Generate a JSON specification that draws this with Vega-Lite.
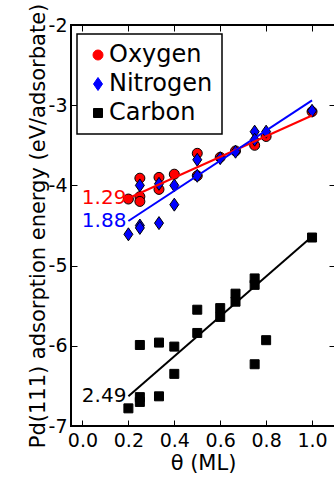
{
  "$schema": "https://vega.github.io/schema/vega-lite/v6.json",
  "width": 264,
  "height": 401,
  "autosize": {"type": "none"},
  "padding": {"left": 71, "top": 25, "right": 0, "bottom": 55},
  "background": "white",
  "config": {
    "font": "DejaVu Sans",
    "view": {"stroke": "black", "strokeWidth": 2},
    "axis": {
      "grid": false,
      "domain": false,
      "tickColor": "black",
      "tickSize": -6,
      "tickWidth": 1,
      "labelColor": "black",
      "labelFont": "DejaVu Sans",
      "labelFontSize": 19,
      "titleColor": "black",
      "titleFont": "DejaVu Sans",
      "titleFontSize": 21,
      "titleFontWeight": "normal"
    },
    "legend": {
      "orient": "none",
      "legendX": 6,
      "legendY": 9,
      "strokeColor": "black",
      "strokeWidth": 1.5,
      "fillColor": "white",
      "padding": 9,
      "labelFont": "DejaVu Sans",
      "labelFontSize": 24,
      "labelColor": "black",
      "labelOffset": -1,
      "rowPadding": 5,
      "symbolSize": 100,
      "symbolStrokeColor": "black",
      "symbolStrokeWidth": 1
    }
  },
  "datasets": {
    "points": [
      {"adsorbate": "Oxygen", "coverage": 0.2, "energy": -4.17},
      {"adsorbate": "Oxygen", "coverage": 0.25, "energy": -3.91},
      {"adsorbate": "Oxygen", "coverage": 0.25, "energy": -4.14},
      {"adsorbate": "Oxygen", "coverage": 0.25, "energy": -4.2},
      {"adsorbate": "Oxygen", "coverage": 0.3333, "energy": -3.9},
      {"adsorbate": "Oxygen", "coverage": 0.3333, "energy": -4.05},
      {"adsorbate": "Oxygen", "coverage": 0.4, "energy": -3.86},
      {"adsorbate": "Oxygen", "coverage": 0.5, "energy": -3.6},
      {"adsorbate": "Oxygen", "coverage": 0.5, "energy": -3.88},
      {"adsorbate": "Oxygen", "coverage": 0.6, "energy": -3.65},
      {"adsorbate": "Oxygen", "coverage": 0.6667, "energy": -3.57},
      {"adsorbate": "Oxygen", "coverage": 0.75, "energy": -3.5},
      {"adsorbate": "Oxygen", "coverage": 0.8, "energy": -3.39},
      {"adsorbate": "Oxygen", "coverage": 1.0, "energy": -3.08},
      {"adsorbate": "Nitrogen", "coverage": 0.2, "energy": -4.61},
      {"adsorbate": "Nitrogen", "coverage": 0.25, "energy": -4.5},
      {"adsorbate": "Nitrogen", "coverage": 0.25, "energy": -4.53},
      {"adsorbate": "Nitrogen", "coverage": 0.25, "energy": -4.0},
      {"adsorbate": "Nitrogen", "coverage": 0.3333, "energy": -4.47},
      {"adsorbate": "Nitrogen", "coverage": 0.3333, "energy": -3.98},
      {"adsorbate": "Nitrogen", "coverage": 0.4, "energy": -4.24},
      {"adsorbate": "Nitrogen", "coverage": 0.4, "energy": -4.0},
      {"adsorbate": "Nitrogen", "coverage": 0.5, "energy": -3.88},
      {"adsorbate": "Nitrogen", "coverage": 0.5, "energy": -3.68},
      {"adsorbate": "Nitrogen", "coverage": 0.6, "energy": -3.66},
      {"adsorbate": "Nitrogen", "coverage": 0.6667, "energy": -3.58},
      {"adsorbate": "Nitrogen", "coverage": 0.75, "energy": -3.33},
      {"adsorbate": "Nitrogen", "coverage": 0.75, "energy": -3.43},
      {"adsorbate": "Nitrogen", "coverage": 0.8, "energy": -3.33},
      {"adsorbate": "Nitrogen", "coverage": 1.0, "energy": -3.07},
      {"adsorbate": "Carbon", "coverage": 0.2, "energy": -6.78},
      {"adsorbate": "Carbon", "coverage": 0.25, "energy": -5.99},
      {"adsorbate": "Carbon", "coverage": 0.25, "energy": -6.64},
      {"adsorbate": "Carbon", "coverage": 0.25, "energy": -6.7},
      {"adsorbate": "Carbon", "coverage": 0.3333, "energy": -5.96},
      {"adsorbate": "Carbon", "coverage": 0.3333, "energy": -6.63},
      {"adsorbate": "Carbon", "coverage": 0.4, "energy": -6.01},
      {"adsorbate": "Carbon", "coverage": 0.4, "energy": -6.35},
      {"adsorbate": "Carbon", "coverage": 0.5, "energy": -5.55},
      {"adsorbate": "Carbon", "coverage": 0.5, "energy": -5.84},
      {"adsorbate": "Carbon", "coverage": 0.6, "energy": -5.53},
      {"adsorbate": "Carbon", "coverage": 0.6, "energy": -5.64},
      {"adsorbate": "Carbon", "coverage": 0.6667, "energy": -5.35},
      {"adsorbate": "Carbon", "coverage": 0.6667, "energy": -5.45},
      {"adsorbate": "Carbon", "coverage": 0.75, "energy": -5.16},
      {"adsorbate": "Carbon", "coverage": 0.75, "energy": -5.24},
      {"adsorbate": "Carbon", "coverage": 0.75, "energy": -6.23},
      {"adsorbate": "Carbon", "coverage": 0.8, "energy": -5.93},
      {"adsorbate": "Carbon", "coverage": 1.0, "energy": -4.65}
    ],
    "fits": [
      {"adsorbate": "Oxygen", "x0": 0.2, "y0": -4.16, "x1": 1.0, "y1": -3.128, "slope": 1.29},
      {"adsorbate": "Nitrogen", "x0": 0.2, "y0": -4.444, "x1": 1.0, "y1": -2.94, "slope": 1.88},
      {"adsorbate": "Carbon", "x0": 0.2, "y0": -6.63, "x1": 1.0, "y1": -4.638, "slope": 2.49}
    ]
  },
  "resolve": {"axis": {"x": "independent", "y": "independent"}},
  "layer": [
    {
      "data": {"name": "points"},
      "mark": {"type": "point", "filled": true, "opacity": 1, "stroke": "black", "strokeWidth": 1, "size": 100},
      "encoding": {
        "x": {
          "field": "coverage", "type": "quantitative",
          "scale": {"domain": [-0.05, 1.1], "nice": false, "zero": false},
          "axis": {"orient": "bottom", "values": [0, 0.2, 0.4, 0.6, 0.8, 1.0], "format": ".1f", "labelPadding": 11, "title": "θ (ML)", "titlePadding": 2}
        },
        "y": {
          "field": "energy", "type": "quantitative",
          "scale": {"domain": [-7, -2], "nice": false, "zero": false},
          "axis": {"orient": "left", "values": [-7, -6, -5, -4, -3, -2], "labelExpr": "toString(datum.value)", "labelPadding": 10, "title": "Pd(111) adsorption energy (eV/adsorbate)", "titlePadding": 0}
        },
        "fill": {
          "field": "adsorbate", "type": "nominal",
          "scale": {"domain": ["Oxygen", "Nitrogen", "Carbon"], "range": ["#ff0000", "#0000ff", "#000000"]},
          "legend": {"title": null}
        },
        "shape": {
          "field": "adsorbate", "type": "nominal",
          "scale": {"domain": ["Oxygen", "Nitrogen", "Carbon"], "range": ["circle", "M0,-1.3L0.9,0L0,1.3L-0.9,0Z", "M-0.9,-0.9H0.9V0.9H-0.9Z"]},
          "legend": {"title": null}
        }
      }
    },
    {
      "data": {"name": "fits"},
      "mark": {"type": "rule", "strokeWidth": 2},
      "encoding": {
        "x": {"field": "x0", "type": "quantitative", "scale": {"domain": [-0.05, 1.1], "nice": false, "zero": false},
              "axis": {"orient": "top", "values": [0, 0.2, 0.4, 0.6, 0.8, 1.0], "labels": false, "title": null}},
        "y": {"field": "y0", "type": "quantitative", "scale": {"domain": [-7, -2], "nice": false, "zero": false},
              "axis": {"orient": "right", "values": [-7, -6, -5, -4, -3, -2], "labels": false, "title": null}},
        "x2": {"field": "x1"},
        "y2": {"field": "y1"},
        "stroke": {
          "field": "adsorbate", "type": "nominal",
          "scale": {"domain": ["Oxygen", "Nitrogen", "Carbon"], "range": ["#ff0000", "#0000ff", "#000000"]},
          "legend": null
        }
      }
    },
    {
      "data": {"name": "fits"},
      "mark": {"type": "text", "align": "right", "baseline": "middle", "dx": -2, "fontSize": 20, "font": "DejaVu Sans"},
      "encoding": {
        "x": {"field": "x0", "type": "quantitative", "axis": null},
        "y": {"field": "y0", "type": "quantitative", "axis": null},
        "text": {"field": "slope", "type": "quantitative", "format": ".2f"},
        "fill": {"field": "adsorbate", "type": "nominal", "legend": null}
      }
    }
  ]
}
